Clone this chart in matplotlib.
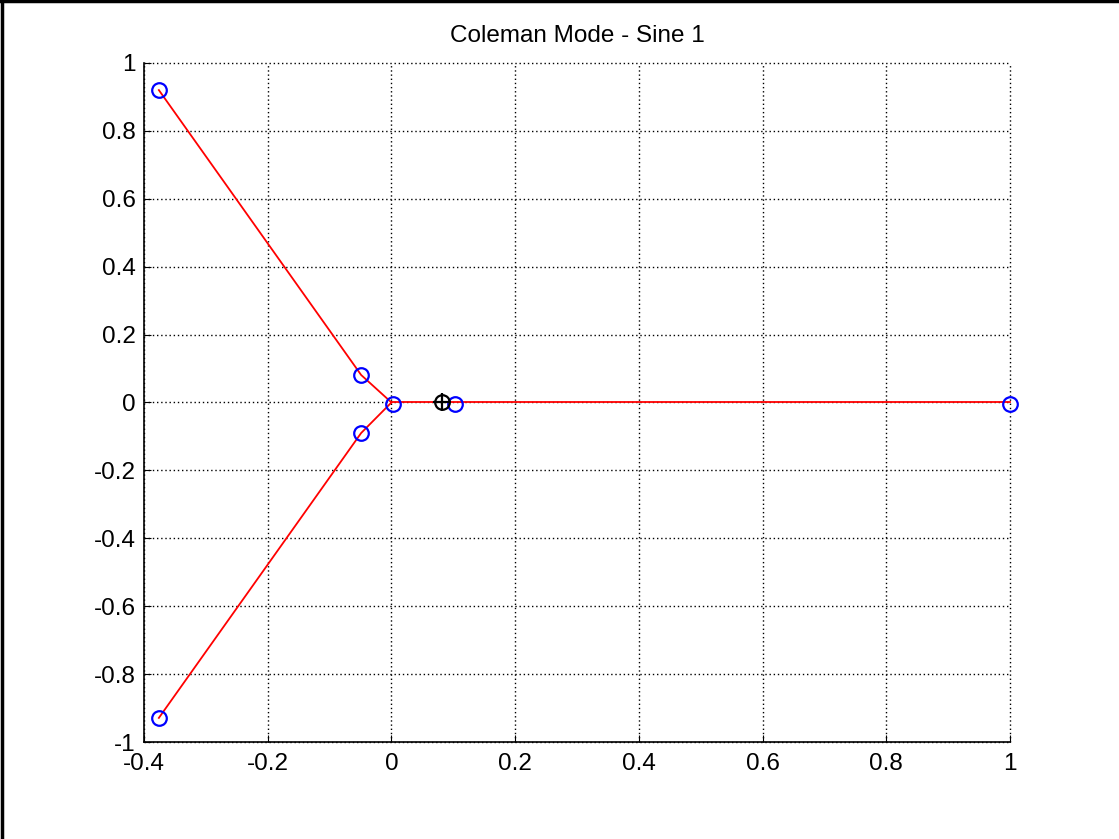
import matplotlib
matplotlib.use("Agg")
import matplotlib.pyplot as plt
from matplotlib.lines import Line2D

plt.rcParams['font.family'] = ['Liberation Sans', 'DejaVu Sans']

# Blade lines (red)
blade1_x = [-0.376, -0.049, 0.0]
blade1_y = [0.920, 0.081, 0.0]
blade2_x = [0.0, -0.049, -0.376]
blade2_y = [0.0, -0.090, -0.929]
blade3_x = [0.0, 0.10, 1.0]
blade3_y = [0.0, 0.0, 0.0]

# Node markers (blue circles)
node_x = [-0.376, -0.049, 0.0025, -0.049, -0.376, 0.1027, 1.0]
node_y = [0.920, 0.081, -0.004, -0.090, -0.929, -0.004, -0.004]

# Hub centre marker (black)
hub_x = [0.0817]
hub_y = [0.0]

xticks = [-0.4, -0.2, 0, 0.2, 0.4, 0.6, 0.8, 1]
yticks = [-1, -0.8, -0.6, -0.4, -0.2, 0, 0.2, 0.4, 0.6, 0.8, 1]
xlabels = ['-0.4', '-0.2', '0', '0.2', '0.4', '0.6', '0.8', '1']
ylabels = ['-1', '-0.8', '-0.6', '-0.4', '-0.2', '0', '0.2', '0.4', '0.6', '0.8', '1']

fig = plt.figure(figsize=(11.19, 8.39), dpi=100)
ax = fig.add_axes([0.1287, 0.1156, 0.7739, 0.8094])

for bx, by in [(blade1_x, blade1_y), (blade2_x, blade2_y), (blade3_x, blade3_y)]:
    ax.plot(bx, by, color='red', lw=1.3, zorder=3, clip_on=False)
ax.plot(node_x, node_y, 'o', mfc='none', mec='blue', ms=10.5, mew=1.6, zorder=4, clip_on=False)
ax.plot(hub_x, hub_y, 'o', mfc='none', mec='black', ms=10.5, mew=1.6, zorder=5, clip_on=False)
ax.plot(hub_x, hub_y, '+', mec='black', ms=13, mew=1.6, zorder=5, clip_on=False)

ax.set_xlim(-0.4, 1)
ax.set_ylim(-1, 1)
ax.set_xticks(xticks)
ax.set_xticklabels(xlabels)
ax.set_yticks(yticks)
ax.set_yticklabels(ylabels)
ax.grid(True, color='black', linestyle=(0, (1, 2)), linewidth=1.0)
ax.set_axisbelow(True)
for gl in ax.xaxis.get_gridlines() + ax.yaxis.get_gridlines():
    gl.set_clip_on(False)
for s in ['top', 'right']:
    ax.spines[s].set_visible(False)
for s in ['left', 'bottom']:
    ax.spines[s].set_linewidth(1.2)
ax.tick_params(direction='in', length=5, labelsize=17.5)
ax.tick_params(axis='y', pad=6)
ax.tick_params(axis='x', pad=8)
ax.set_title('Coleman Mode - Sine 1', fontsize=17.5, pad=15)

# window border (left and top)
fig.add_artist(Line2D([0.0015, 0.0015], [0, 1], transform=fig.transFigure, color='black', lw=2.5))
fig.add_artist(Line2D([0, 1], [0.9985, 0.9985], transform=fig.transFigure, color='black', lw=2.5))

fig.savefig('out.png', dpi=100)
